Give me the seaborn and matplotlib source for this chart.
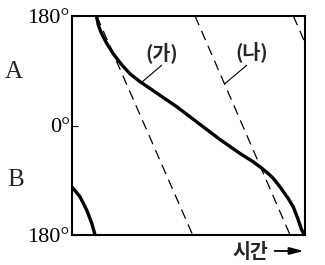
import matplotlib
matplotlib.use("Agg")
import matplotlib.pyplot as plt
import seaborn as sns
import pandas as pd

# ---- data (time in arbitrary units 0..10, longitude in degrees) ----
solid_t = [1.05, 1.13, 1.27, 1.49, 1.77, 2.13, 2.49, 2.92, 3.42, 3.99, 4.49, 5.35,
           6.35, 7.21, 7.75, 8.14, 8.42, 8.64, 8.93, 9.28, 9.50, 9.69, 9.84, 9.97]
solid_lon = [180, 165, 151, 135, 118, 100, 85, 72, 59, 44, 31, 6,
             -23, -46, -59, -70, -79, -87, -101, -120, -134, -153, -170, -180]
tail_t = [0.0, 0.34, 0.63, 0.85, 0.99]
tail_lon = [-101, -117, -139, -161, -180]
dash_t_start = [1.06, 5.28, 9.50]
dash_t_end = [5.18, 9.36, 13.61]
dash_lon_start = [180, 180, 180]
dash_lon_end = [-180, -180, -180]
ytick_vals = [180, 0, -180]
ytick_labels = ["180°", "0°", "180°"]
side_labels = ["A", "B"]
curve_labels = ["(가)", "(나)"]
xlabel_text = "시간"

sns.set_theme(style="white")
plt.rcParams['font.family'] = ['Noto Sans CJK KR', 'DejaVu Sans']

fig = plt.figure(figsize=(3.25, 2.65), dpi=100)
ax = fig.add_axes([72/325, 1-235/265, 233/325, 219/265])

# dashed lines
for i in range(len(dash_t_start)):
    df_d = pd.DataFrame({"t": [dash_t_start[i], dash_t_end[i]],
                         "lon": [dash_lon_start[i], dash_lon_end[i]]})
    sns.lineplot(data=df_d, x="t", y="lon", ax=ax, color="black", lw=0.9,
                 linestyle=(0, (8, 5)), estimator=None, sort=False)

# solid curves
df_s = pd.DataFrame({"t": solid_t, "lon": solid_lon})
sns.lineplot(data=df_s, x="t", y="lon", ax=ax, color="black", lw=2.4,
             estimator=None, sort=False)
df_tail = pd.DataFrame({"t": tail_t, "lon": tail_lon})
sns.lineplot(data=df_tail, x="t", y="lon", ax=ax, color="black", lw=2.4,
             estimator=None, sort=False)

ax.set_xlim(0, 10)
ax.set_ylim(-180, 180)
ax.set_xticks([])
ax.set_yticks(ytick_vals)
ax.set_yticklabels(ytick_labels, fontfamily="Liberation Serif", fontsize=16)
ax.tick_params(axis="y", direction="in", length=4.5, width=0.8, pad=1.5,
               left=True, colors="black")
ax.set_xlabel("")
ax.set_ylabel("")
for s in ax.spines.values():
    s.set_linewidth(1.5)
    s.set_color("black")

# side letters
fig.text(14/325, 1-72/265, side_labels[0], ha="center", va="center",
         fontfamily="Liberation Serif", fontsize=18)
fig.text(16/325, 1-180/265, side_labels[1], ha="center", va="center",
         fontfamily="Liberation Serif", fontsize=18)

# curve labels with leader lines
ax.text(3.86, 119, curve_labels[0], ha="center", va="center", fontsize=14,
        fontweight="bold")
ax.text(7.73, 121, curve_labels[1], ha="center", va="center", fontsize=14,
        fontweight="bold")
ax.annotate("", xy=(2.99, 71), xytext=(3.85, 99),
            arrowprops=dict(arrowstyle="-", lw=0.8, color="black",
                            shrinkA=0, shrinkB=0))
ax.annotate("", xy=(6.57, 69), xytext=(7.50, 99),
            arrowprops=dict(arrowstyle="-", lw=0.8, color="black",
                            shrinkA=0, shrinkB=0))

# time label with arrow
fig.text(250/325, 1-252/265, xlabel_text, ha="center", va="center", fontsize=14,
         fontweight="bold")
ax.annotate("", xy=(0.995, -0.073), xytext=(0.87, -0.073),
            xycoords="axes fraction", textcoords="axes fraction",
            arrowprops=dict(arrowstyle="-|>,head_length=0.7,head_width=0.18",
                            lw=1.3, color="black", shrinkA=0, shrinkB=0),
            annotation_clip=False)

fig.savefig("out.png", dpi=100, facecolor="white")
